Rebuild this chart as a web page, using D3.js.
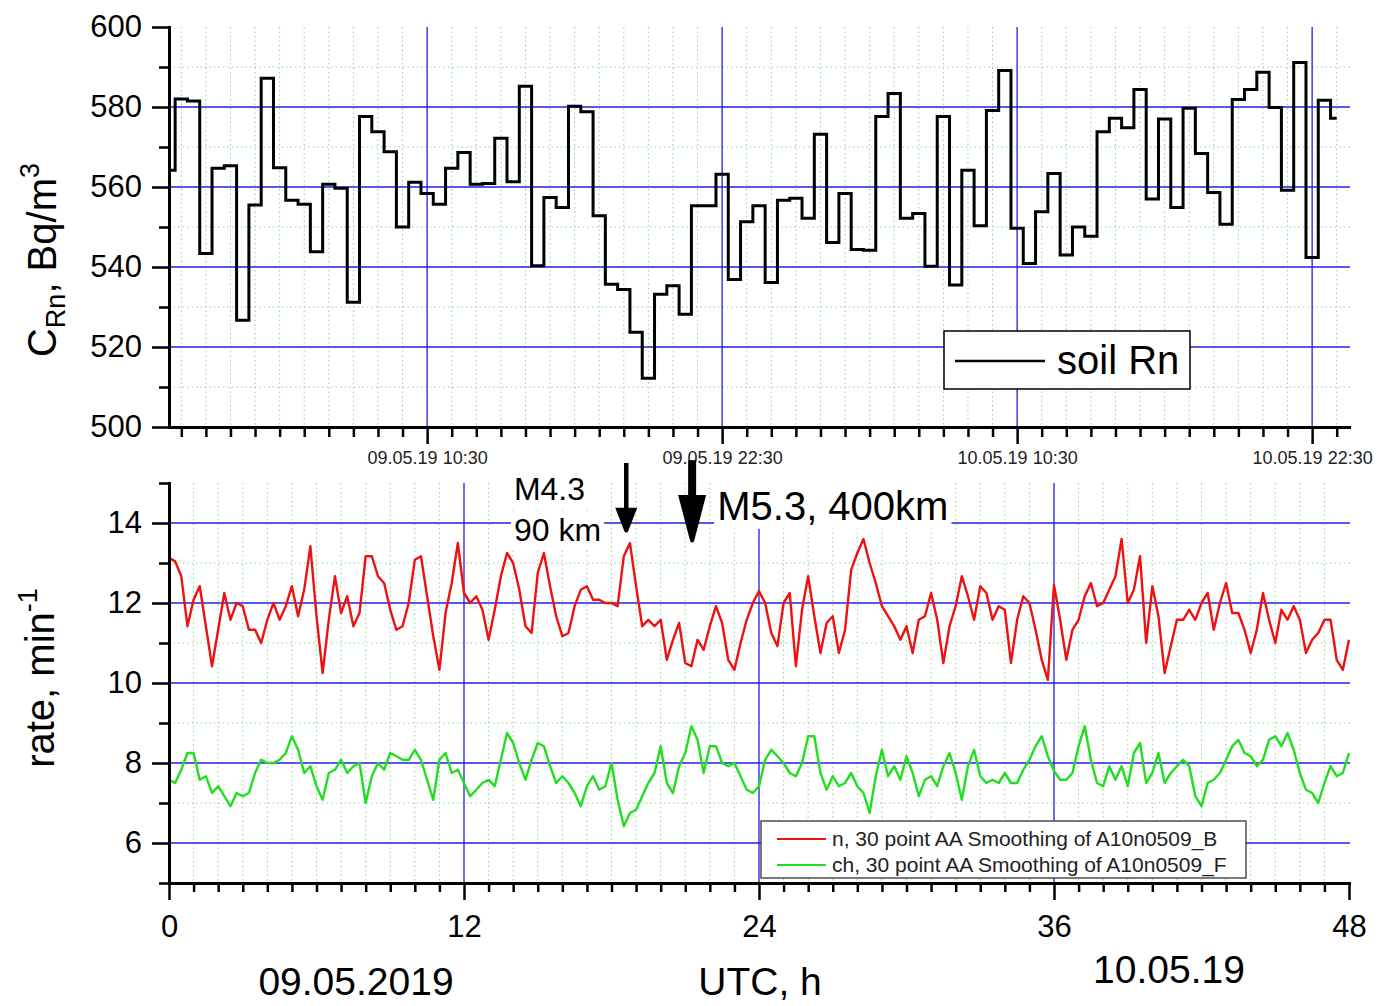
<!DOCTYPE html>
<html>
<head>
<meta charset="utf-8">
<script src="https://cdn.jsdelivr.net/npm/d3@7"></script>
<style>
  body { margin: 0; background: #fff; }
  svg { display: block; font-family: "Liberation Sans", Arial, sans-serif; }
</style>
</head>
<body>
<div id="chart"></div>
<script>
// soil radon, one value every 30 min starting at 0 h (09.05.19 00:00 UTC)
const rnStart = 0, rnStep = 0.5;
const rnValues = [
  564.2, 582, 581.5, 543.4, 564.7, 565.3, 526.7, 555.5, 587.2, 564.8, 556.7, 555.7,
  543.8, 560.7, 559.7, 531.2, 577.6, 573.8, 568.8, 550, 561.2, 558.4, 555.7, 564.7,
  568.6, 560.7, 560.9, 572.2, 561.3, 585.2, 540.3, 557.4, 554.9, 580.2, 578.8, 552.8,
  535.7, 534.4, 523.7, 512.2, 533.2, 535.3, 528.2, 555.3, 555.3, 563.2, 536.9, 551.3,
  555.3, 536.1, 556.7, 557.2, 552.2, 573.2, 546.1, 558.4, 544.4, 544.2, 577.6, 583.4,
  552.2, 553.4, 540.2, 577.6, 535.5, 564.2, 550.3, 579.1, 589.1, 549.7, 540.9, 553.8,
  563.4, 543, 550, 547.7, 573.8, 577.2, 574.8, 584.4, 557, 577, 554.9, 579.7,
  568.4, 558.6, 550.7, 581.9, 584.4, 588.7, 579.9, 559.2, 591.1, 542.4, 581.7, 577.2
];

// count rates read every 15 min, 0..48 h
const rateStart = 0, rateStep = 0.25;
const nRate = [
  13.13, 13.04, 12.67, 11.42, 12.08, 12.42, 11.42, 10.42, 11.33, 12.25, 11.58, 12.0,
  11.92, 11.33, 11.33, 11.0, 11.58, 12.0, 11.58, 11.92, 12.42, 11.67, 12.33, 13.42,
  11.67, 10.25, 11.58, 12.67, 11.75, 12.17, 11.42, 11.75, 13.17, 13.17, 12.67, 12.5,
  11.83, 11.33, 11.42, 12.0, 13.08, 13.17, 12.17, 11.17, 10.33, 11.75, 12.5, 13.5, 12.25,
  12.0, 12.17, 11.83, 11.08, 11.83, 12.67, 13.25, 13.0, 12.33, 11.42, 11.25, 12.75,
  13.25, 12.42, 11.67, 11.17, 11.25, 11.92, 12.33, 12.42, 12.08, 12.08, 12.0, 12.0,
  11.92, 13.17, 13.5, 12.42, 11.42, 11.58, 11.42, 11.58, 10.58, 11.08, 11.5, 10.5,
  10.42, 11.08, 10.83, 11.42, 11.92, 11.5, 10.58, 10.33, 11.0, 11.58, 12.0, 12.3,
  12.0, 11.25, 10.92, 12.0, 12.25, 10.42, 11.83, 12.67, 11.67, 10.75, 11.5, 11.67,
  10.75, 11.33, 12.83, 13.25, 13.6, 13.0, 12.5, 11.92, 11.67, 11.42, 11.08, 11.42,
  10.75, 11.58, 11.67, 12.25, 11.58, 10.5, 11.42, 11.92, 12.67, 12.17, 11.58, 12.42,
  12.25, 11.58, 11.92, 11.83, 10.5, 11.58, 12.17, 12.0, 11.33, 10.58, 10.08, 12.45,
  11.58, 10.58, 11.33, 11.58, 12.17, 12.5, 11.92, 12.0, 12.33, 12.67, 13.6, 12.0,
  12.33, 13.17, 11.0, 12.42, 11.67, 10.25, 10.92, 11.58, 11.58, 11.83, 11.58, 12.0,
  12.25, 11.33, 12.0, 12.5, 11.75, 11.75, 11.33, 10.75, 11.33, 12.25, 11.58, 11.0,
  11.83, 11.58, 11.92, 11.58, 10.75, 11.08, 11.25, 11.58, 11.58, 10.58, 10.33, 11.08
];
const chRate = [
  7.58, 7.5, 7.83, 8.25, 8.25, 7.58, 7.67, 7.25, 7.42, 7.17, 6.92, 7.25,
  7.17, 7.25, 7.75, 8.08, 8.0, 8.0, 8.08, 8.25, 8.67, 8.33, 7.75, 7.92,
  7.42, 7.08, 7.75, 7.83, 8.08, 7.75, 7.92, 8.0, 7.0, 7.67, 8.0, 7.83,
  8.25, 8.17, 8.08, 8.08, 8.33, 8.08, 7.58, 7.08, 8.08, 8.25, 7.75, 7.83, 7.5,
  7.17, 7.33, 7.5, 7.58, 7.42, 8.08, 8.75, 8.5, 8.0, 7.58, 8.08, 8.5,
  8.42, 7.92, 7.5, 7.67, 7.5, 7.25, 6.92, 7.42, 7.67, 7.33, 7.42, 8.0,
  7.08, 6.42, 6.75, 6.83, 7.17, 7.5, 7.75, 8.42, 7.5, 7.25, 7.92, 8.25,
  8.92, 8.58, 7.75, 8.42, 8.42, 8.0, 7.92, 8.0, 7.67, 7.33, 7.25, 7.42,
  8.08, 8.33, 8.17, 8.0, 7.75, 7.67, 8.0, 8.67, 8.67, 7.75, 7.33, 7.67,
  7.42, 7.5, 7.75, 7.42, 7.25, 6.75, 7.67, 8.33, 7.67, 7.92, 7.58, 8.17,
  7.75, 7.17, 7.58, 7.67, 7.42, 7.92, 8.25, 7.75, 7.08, 7.92, 8.33, 7.67,
  7.5, 7.58, 7.5, 7.75, 7.5, 7.5, 7.83, 8.08, 8.42, 8.67, 8.17, 7.8,
  7.58, 7.58, 7.75, 8.42, 8.92, 8.08, 7.5, 7.42, 7.92, 7.58, 7.92, 7.42,
  8.25, 8.5, 7.5, 7.75, 8.25, 7.5, 7.75, 7.92, 8.08, 7.92, 7.17, 6.92,
  7.5, 7.58, 7.75, 8.08, 8.42, 8.58, 8.25, 8.17, 7.92, 8.08, 8.58, 8.67,
  8.42, 8.75, 8.33, 7.75, 7.33, 7.25, 7.0, 7.5, 7.92, 7.67, 7.75, 8.25
];

// axis ticks
const rnMajor = [500, 520, 540, 560, 580, 600];
const rnMinor = [510, 530, 550, 570, 590];
const topMajor = [10.5, 22.5, 34.5, 46.5];
const topLabels = ['09.05.19 10:30', '09.05.19 22:30', '10.05.19 10:30', '10.05.19 22:30'];
const rateMajor = [6, 8, 10, 12, 14];
const rateMinor = [5, 7, 9, 11, 13, 15];
const hourMajor = [0, 12, 24, 36, 48];

// earthquake marks (time in h)
const quakes = [
  { t: 18.6, top: 15.5, neck: 14.38, tip: 13.75, half: 11, shaft: 4.5 },
  { t: 21.28, top: 15.57, neck: 14.7, tip: 13.5, half: 14, shaft: 8 }
];

const W = 1380, H = 1006;
const BLUE = '#2020e0', DOT = '#8fd68f';

const svg = d3.select('#chart').append('svg').attr('width', W).attr('height', H);
svg.append('rect').attr('width', W).attr('height', H).attr('fill', '#fff');

const x = d3.scaleLinear().domain([0, 48]).range([169, 1349]);
const yRn = d3.scaleLinear().domain([500, 600]).range([427, 27]);
const yRate = d3.scaleLinear().domain([5, 15]).range([883, 483]);

const halfHours = d3.range(0.5, 48, 1);
const hours = d3.range(0, 49, 1);

// ---------- grids ----------
const grid = svg.append('g');
function vLines(vals, yS, col, dash) {
  grid.append('g').selectAll('line').data(vals).join('line')
    .attr('x1', d => x(d)).attr('x2', d => x(d))
    .attr('y1', yS.range()[1]).attr('y2', yS.range()[0])
    .attr('stroke', col).attr('stroke-width', dash ? 1 : 1.3)
    .attr('stroke-dasharray', dash || null);
}
function hLines(vals, yS, col, dash) {
  grid.append('g').selectAll('line').data(vals).join('line')
    .attr('x1', x(0)).attr('x2', x(48) + 1)
    .attr('y1', d => yS(d)).attr('y2', d => yS(d))
    .attr('stroke', col).attr('stroke-width', dash ? 1 : 1.3)
    .attr('stroke-dasharray', dash || null);
}
vLines(halfHours.filter(d => !topMajor.includes(d)), yRn, DOT, '1.5,3');
hLines(rnMinor, yRn, DOT, '1.5,3');
vLines(topMajor, yRn, BLUE);
hLines([520, 540, 560, 580], yRn, BLUE);

vLines(hours.filter(d => d > 0 && d < 48 && !hourMajor.includes(d)), yRate, DOT, '1.5,3');
hLines([7, 9, 11, 13], yRate, DOT, '1.5,3');
vLines([12, 24, 36], yRate, BLUE);
hLines(rateMajor, yRate, BLUE);

// ---------- annotation texts with white boxes ----------
const notes = svg.append('g');
function note(txt, t, v, size) {
  const el = notes.append('text').attr('x', x(t)).attr('y', yRate(v))
    .attr('font-size', size).attr('fill', '#000').text(txt);
  const b = el.node().getBBox();
  notes.insert('rect', 'text').attr('x', b.x - 3).attr('y', b.y - 1)
    .attr('width', b.width + 6).attr('height', b.height + 2).attr('fill', '#fff');
}
note('M4.3', 14.03, 14.58, 32);
note('90 km', 14.03, 13.55, 32);
note('M5.3, 400km', 22.3, 14.08, 40);

// ---------- data ----------
const rnLine = d3.line()
  .x((d, i) => x(rnStart + i * rnStep)).y(d => yRn(d))
  .curve(d3.curveStep);
svg.append('path').datum(rnValues).attr('d', rnLine)
  .attr('fill', 'none').attr('stroke', '#000').attr('stroke-width', 3);

const rateLine = d3.line()
  .x((d, i) => x(rateStart + i * rateStep)).y(d => yRate(d));
svg.append('path').datum(nRate).attr('d', rateLine)
  .attr('fill', 'none').attr('stroke', '#ee1111').attr('stroke-width', 2.4)
  .attr('stroke-linejoin', 'round');
svg.append('path').datum(chRate).attr('d', rateLine)
  .attr('fill', 'none').attr('stroke', '#22dd22').attr('stroke-width', 2.4)
  .attr('stroke-linejoin', 'round');

// ---------- axes ----------
function styleAxis(sel, fs) {
  sel.select('.domain').attr('stroke', '#000').attr('stroke-width', 3).attr('stroke-linecap', 'square');
  sel.selectAll('.tick line').attr('stroke', '#000').attr('stroke-width', 2.5);
  sel.selectAll('text').attr('fill', '#000').style('font-size', fs + 'px')
    .style('font-family', '"Liberation Sans", Arial, sans-serif');
}
// top panel
svg.append('g').attr('transform', `translate(${x(0)},0)`)
  .call(d3.axisLeft(yRn).tickValues(rnMinor).tickSize(10).tickSizeOuter(0).tickFormat(''))
  .call(s => styleAxis(s, 31));
svg.append('g').attr('transform', `translate(${x(0)},0)`)
  .call(d3.axisLeft(yRn).tickValues(rnMajor).tickSize(17).tickSizeOuter(0).tickPadding(10))
  .call(s => styleAxis(s, 31));
svg.append('g').attr('transform', `translate(0,${yRn(500)})`)
  .call(d3.axisBottom(x).tickValues(halfHours.filter(d => !topMajor.includes(d))).tickSize(10).tickSizeOuter(0).tickFormat(''))
  .call(s => styleAxis(s, 18));
svg.append('g').attr('transform', `translate(0,${yRn(500)})`)
  .call(d3.axisBottom(x).tickValues(topMajor).tickSize(17).tickSizeOuter(0).tickPadding(7)
    .tickFormat((d, i) => topLabels[i]))
  .call(s => styleAxis(s, 18))
  .call(s => s.selectAll('text').attr('fill', '#222'));

// bottom panel
svg.append('g').attr('transform', `translate(${x(0)},0)`)
  .call(d3.axisLeft(yRate).tickValues(rateMinor).tickSize(10).tickSizeOuter(0).tickFormat(''))
  .call(s => styleAxis(s, 31));
svg.append('g').attr('transform', `translate(${x(0)},0)`)
  .call(d3.axisLeft(yRate).tickValues(rateMajor).tickSize(17).tickSizeOuter(0).tickPadding(10))
  .call(s => styleAxis(s, 31));
svg.append('g').attr('transform', `translate(0,${yRate(5)})`)
  .call(d3.axisBottom(x).tickValues(hours.filter(d => !hourMajor.includes(d))).tickSize(9).tickSizeOuter(0).tickFormat(''))
  .call(s => styleAxis(s, 31));
svg.append('g').attr('transform', `translate(0,${yRate(5)})`)
  .call(d3.axisBottom(x).tickValues(hourMajor).tickSize(17).tickSizeOuter(0).tickPadding(15))
  .call(s => styleAxis(s, 31));

// ---------- axis titles ----------
const t1 = svg.append('text').attr('transform', 'translate(56,260) rotate(-90)')
  .attr('text-anchor', 'middle').attr('font-size', 40).attr('fill', '#000');
t1.append('tspan').text('C');
t1.append('tspan').attr('font-size', 27).attr('dy', 9).text('Rn');
t1.append('tspan').attr('dy', -9).text(', Bq/m');
t1.append('tspan').attr('font-size', 27).attr('dy', -17).text('3');

const t2 = svg.append('text').attr('transform', 'translate(54,678) rotate(-90)')
  .attr('text-anchor', 'middle').attr('font-size', 40).attr('fill', '#000');
t2.append('tspan').text('rate, min');
t2.append('tspan').attr('font-size', 27).attr('dy', -17).text('-1');

svg.append('text').attr('x', 356).attr('y', 995).attr('text-anchor', 'middle')
  .attr('font-size', 39).text('09.05.2019');
svg.append('text').attr('x', 760).attr('y', 995).attr('text-anchor', 'middle')
  .attr('font-size', 39).text('UTC, h');
svg.append('text').attr('x', 1169).attr('y', 983).attr('text-anchor', 'middle')
  .attr('font-size', 39).text('10.05.19');

// ---------- legends ----------
const lg1 = svg.append('g');
lg1.append('rect').attr('x', 944).attr('y', 331).attr('width', 246).attr('height', 58)
  .attr('fill', '#fff').attr('stroke', '#000').attr('stroke-width', 1.5);
lg1.append('line').attr('x1', 955).attr('x2', 1045).attr('y1', 361).attr('y2', 361)
  .attr('stroke', '#000').attr('stroke-width', 2.5);
lg1.append('text').attr('x', 1057).attr('y', 374).attr('font-size', 40).text('soil Rn');

const legendItems = [
  { label: 'n, 30 point AA Smoothing of A10n0509_B', color: '#ee1111' },
  { label: 'ch, 30 point AA Smoothing of A10n0509_F', color: '#22dd22' }
];
const lg2 = svg.append('g');
lg2.append('rect').attr('x', 761).attr('y', 821).attr('width', 485).attr('height', 57)
  .attr('fill', '#fff').attr('stroke', '#333').attr('stroke-width', 1.3);
lg2.selectAll('line').data(legendItems).join('line')
  .attr('x1', 777).attr('x2', 826).attr('y1', (d, i) => 839 + i * 26).attr('y2', (d, i) => 839 + i * 26)
  .attr('stroke', d => d.color).attr('stroke-width', 2);
lg2.selectAll('text').data(legendItems).join('text')
  .attr('x', 832).attr('y', (d, i) => 846 + i * 26)
  .attr('font-size', 21).attr('fill', '#222').text(d => d.label);

// ---------- arrows ----------
const arrows = svg.append('g');
quakes.forEach(q => {
  const cx = x(q.t);
  arrows.append('rect').attr('x', cx - q.shaft / 2).attr('y', yRate(q.top))
    .attr('width', q.shaft).attr('height', yRate(q.neck) - yRate(q.top) + 2).attr('fill', '#000');
  arrows.append('path')
    .attr('d', `M${cx - q.half},${yRate(q.neck)} L${cx + q.half},${yRate(q.neck)} L${cx + 2},${yRate(q.tip) - 2} Q${cx},${yRate(q.tip) + 1} ${cx - 2},${yRate(q.tip) - 2} Z`)
    .attr('fill', '#000');
});
</script>
</body>
</html>
